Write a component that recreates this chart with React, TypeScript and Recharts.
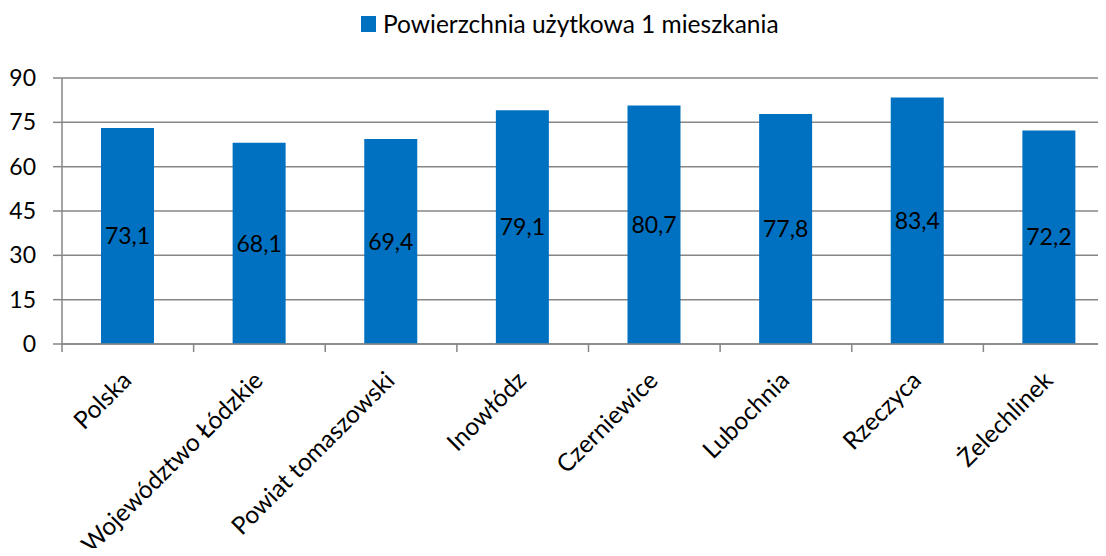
import React from "react";
import { BarChart, Bar, XAxis, YAxis, CartesianGrid, LabelList, Legend } from "recharts";

const categories = [
  "Polska",
  "Województwo Łódzkie",
  "Powiat tomaszowski",
  "Inowłódz",
  "Czerniewice",
  "Lubochnia",
  "Rzeczyca",
  "Żelechlinek",
];
const values = [73.1, 68.1, 69.4, 79.1, 80.7, 77.8, 83.4, 72.2];
const yTicks = [0, 15, 30, 45, 60, 75, 90];
const seriesName = "Powierzchnia użytkowa 1 mieszkania";

const data = categories.map((c, i) => ({ name: c, value: values[i] }));

const FONT = "Lato, 'Noto Sans', sans-serif";
const BLUE = "#0070C0";
const GRID = "#868686";
const CHART_W = 1120;
const CHART_H = 556;
const MARGIN = { top: 78, right: 5, left: 0, bottom: 0 };
const Y_W = 62;
const STEP = (CHART_W - MARGIN.left - MARGIN.right - Y_W) / categories.length;

const XTick = (props: any) => {
  const { x, y, payload, index } = props;
  const half = payload && typeof payload.offset === "number" && payload.offset > 0 ? payload.offset : STEP / 2;
  const last = index === categories.length - 1;
  return (
    <g>
      <line x1={x - half} x2={x - half} y1={y} y2={y + 8} stroke={GRID} strokeWidth={1.5} />
      {last && <line x1={x + half} x2={x + half} y1={y} y2={y + 8} stroke={GRID} strokeWidth={1.5} />}
      <text
        x={x + 5}
        y={y + 38}
        textAnchor="end"
        transform={`rotate(-45 ${x + 5} ${y + 38})`}
        fontFamily={FONT}
        fontSize={24.5}
        fill="#000"
      >
        {payload.value}
      </text>
    </g>
  );
};

const LegendContent = () => (
  <div style={{ display: "flex", alignItems: "center", fontFamily: FONT, fontSize: 24.5, lineHeight: "24px", color: "#000", whiteSpace: "nowrap" }}>
    <span style={{ display: "inline-block", width: 15, height: 16, background: BLUE, marginRight: 7 }} />
    <span>{seriesName}</span>
  </div>
);

export default function App() {
  return (
    <div style={{ margin: -8, width: 1106, height: 556, overflow: "hidden", position: "relative", background: "#fff" }}>
      <BarChart width={CHART_W} height={CHART_H} data={data} margin={MARGIN}>
        <CartesianGrid vertical={false} stroke={GRID} strokeWidth={1.5} />
        <XAxis
          dataKey="name"
          height={212}
          interval={0}
          tickLine={false}
          tickSize={0}
          tickMargin={0}
          axisLine={{ stroke: GRID, strokeWidth: 1.5 }}
          tick={<XTick />}
        />
        <YAxis
          width={Y_W}
          domain={[0, 90]}
          ticks={yTicks}
          interval={0}
          tickSize={9}
          tickMargin={17}
          axisLine={{ stroke: GRID, strokeWidth: 1.5 }}
          tickLine={{ stroke: GRID, strokeWidth: 1.5 }}
          tick={{ fontFamily: FONT, fontSize: 23, fill: "#000" }}
        />
        <Legend
          layout="vertical"
          align="center"
          verticalAlign="middle"
          wrapperStyle={{ top: 12, left: 361, width: "auto", height: "auto" }}
          content={<LegendContent />}
        />
        <Bar dataKey="value" name={seriesName} fill={BLUE} barSize={53} isAnimationActive={false}>
          <LabelList
            dataKey="value"
            position="center"
            formatter={(v: any) => String(v).replace(".", ",")}
            style={{ fontFamily: FONT, fontSize: 23, fill: "#000" }}
          />
        </Bar>
      </BarChart>
    </div>
  );
}
